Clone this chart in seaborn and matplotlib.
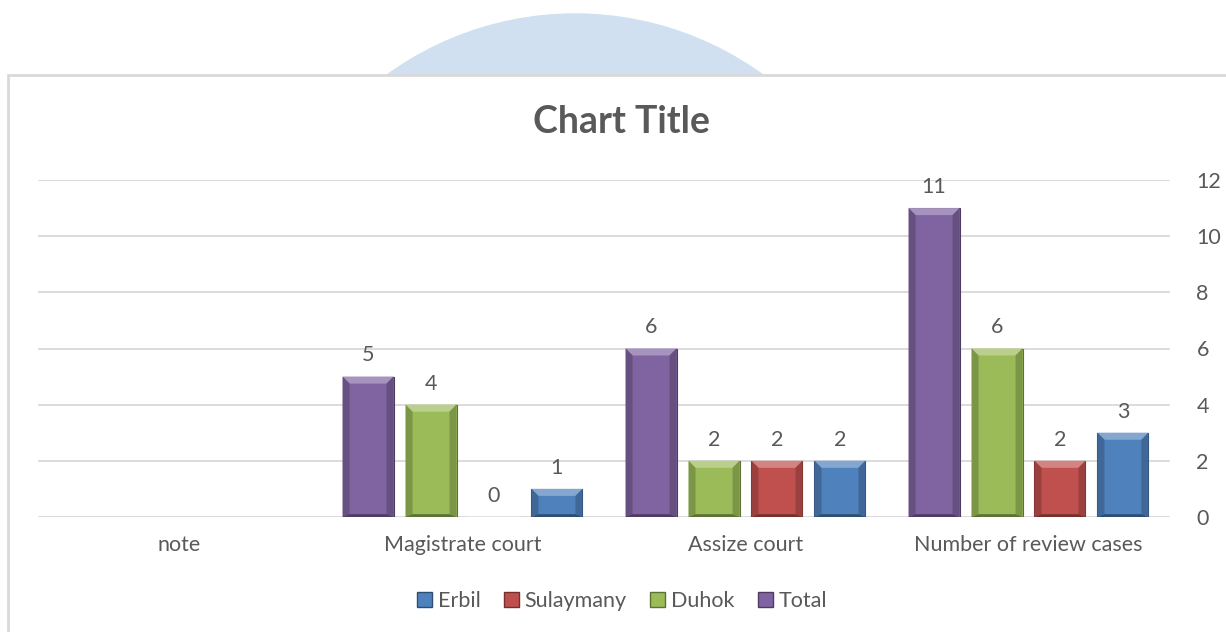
import numpy as np
import pandas as pd
import matplotlib
matplotlib.use('Agg')
import matplotlib.pyplot as plt
import matplotlib.patches as mpatches
import matplotlib.colors as mcolors
import seaborn as sns

# ============================================================
# DATA
# ============================================================
categories = ['note', 'Magistrate court', 'Assize court', 'Number of review cases']
total     = [np.nan, 5, 6, 11]
duhok     = [np.nan, 4, 2, 6]
sulaymany = [np.nan, 0, 2, 2]
erbil     = [np.nan, 1, 2, 3]

bar_order    = ['Total', 'Duhok', 'Sulaymany', 'Erbil']
legend_order = ['Erbil', 'Sulaymany', 'Duhok', 'Total']
colors = {'Total': '#8064A2', 'Duhok': '#9BBB59',
          'Sulaymany': '#C0504D', 'Erbil': '#4F81BD'}

df = pd.DataFrame({'category': categories, 'Total': total, 'Duhok': duhok,
                   'Sulaymany': sulaymany, 'Erbil': erbil})
long_df = df.melt(id_vars='category', var_name='region', value_name='cases')
long_df = long_df.dropna()

# ============================================================
# FIGURE
# ============================================================
sns.set_theme(style='white')
plt.rcParams['font.family'] = ['Lato', 'DejaVu Sans']
TXT = '#595959'
FS = 15.5

W, H = 1226, 632
fig = plt.figure(figsize=(W / 100, H / 100), dpi=100)

def fx(px):
    return px / W

def fy(py):
    return 1 - py / H

# watermark circle behind the chart frame
fig.add_artist(mpatches.Ellipse((fx(575), fy(334)), 2 * 320 / W, 2 * 320 / H,
                                transform=fig.transFigure, color='#D0E0F0',
                                zorder=-3))
# chart frame
fig.add_artist(mpatches.Rectangle((fx(8), fy(660)), fx(1240) - fx(8), fy(75) - fy(660),
                                  transform=fig.transFigure, facecolor='white',
                                  edgecolor='#D9D9D9', lw=2, zorder=-2))

ax = fig.add_axes([fx(38), fy(517), fx(1170) - fx(38), fy(180) - fy(517)])
ax.set_facecolor('none')

sns.barplot(data=long_df, x='category', y='cases', hue='region',
            order=categories, hue_order=bar_order, palette=colors,
            width=0.89, gap=0.19, ax=ax, legend=False, saturation=1)

ax.set_ylim(0, 12)
ax.set_xlim(-0.5, 3.5)
ax.set_yticks(range(0, 13, 2))
ax.yaxis.tick_right()
ax.grid(axis='y', color='#D9D9D9', lw=1.3)
ax.set_axisbelow(True)
for s in ax.spines.values():
    s.set_visible(False)
ax.tick_params(axis='y', length=0, pad=19, labelsize=FS, labelcolor=TXT)
ax.tick_params(axis='x', length=0, pad=13, labelsize=FS, labelcolor=TXT)
ax.set_xlabel('')
ax.set_ylabel('')

# bevel effect on each bar
bx = 7 / 283.0
by = 7 / (337 / 12.0)
for patch in list(ax.patches):
    x0, y0 = patch.get_x(), patch.get_y()
    w, h = patch.get_width(), patch.get_height()
    if h <= 0 or np.isnan(h):
        continue
    base = np.array(mcolors.to_rgb(patch.get_facecolor()))
    light = base + (1 - base) * 0.3
    dark = base * 0.8
    darker = base * 0.6
    patch.set_edgecolor(darker)
    patch.set_linewidth(0.8)
    b_y = min(by, h / 2)
    x1, y1 = x0 + w, y0 + h
    top = [(x0, y1), (x1, y1), (x1 - bx, y1 - b_y), (x0 + bx, y1 - b_y)]
    left = [(x0, y0), (x0, y1), (x0 + bx, y1 - b_y), (x0 + bx, y0 + b_y * 0.4)]
    right = [(x1, y0), (x1, y1), (x1 - bx, y1 - b_y), (x1 - bx, y0 + b_y * 0.4)]
    bottom = [(x0, y0), (x1, y0), (x1 - bx, y0 + b_y * 0.4), (x0 + bx, y0 + b_y * 0.4)]
    for poly, c in [(top, light), (left, dark), (right, dark), (bottom, darker)]:
        ax.add_patch(mpatches.Polygon(poly, closed=True, facecolor=c,
                                      edgecolor='none', zorder=patch.get_zorder() + 0.1))

# data labels
for cont in ax.containers:
    ax.bar_label(cont, fmt='%g', padding=8, fontsize=FS, color=TXT)

# title
fig.text(fx(621), fy(122), 'Chart Title', ha='center', va='center',
         fontsize=27, fontweight='bold', color=TXT)

# legend
handles = [mpatches.Patch(facecolor=colors[k], edgecolor=np.array(mcolors.to_rgb(colors[k])) * 0.6,
                          label=k) for k in legend_order]
fig.legend(handles=handles, loc='center', bbox_to_anchor=(fx(622), fy(601)),
           ncol=4, frameon=False, fontsize=FS, labelcolor=TXT,
           handlelength=0.7, handleheight=0.7, handletextpad=0.25,
           columnspacing=1.1)

fig.savefig('out.png', dpi=100)
